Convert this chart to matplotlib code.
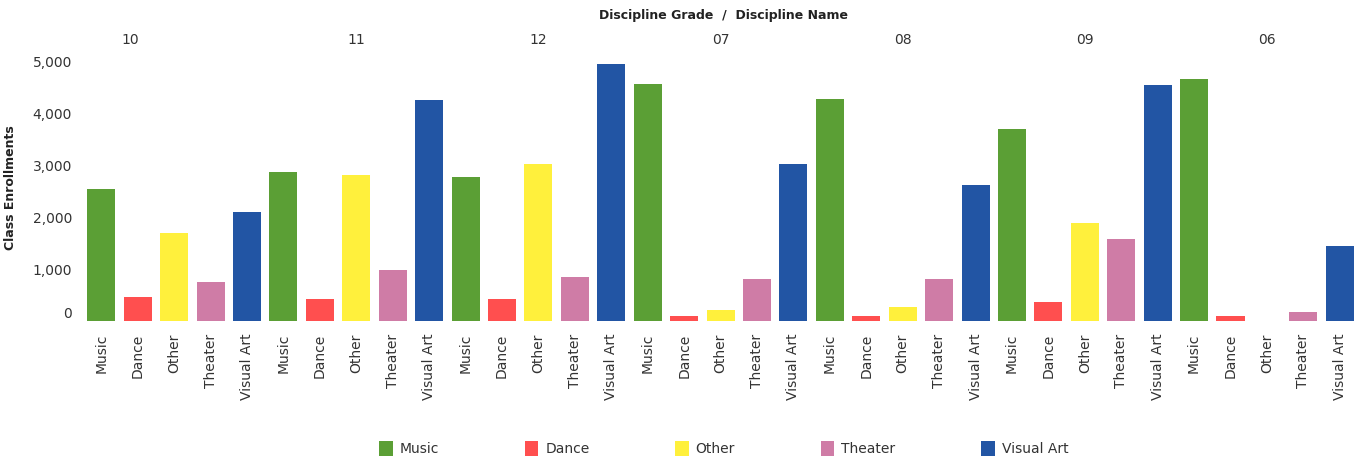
import matplotlib
matplotlib.use("Agg")
import matplotlib.pyplot as plt
from matplotlib.patches import Patch
import numpy as np

grades = ["10", "11", "12", "07", "08", "09", "06"]
disciplines = ["Music", "Dance", "Other", "Theater", "Visual Art"]
colors = {"Music": "#5B9F35", "Dance": "#FF4F4F", "Other": "#FFF03C",
          "Theater": "#CF7CA6", "Visual Art": "#2255A4"}

# enrollments per grade, in discipline order
music = [2540, 2870, 2775, 4570, 4280, 3690, 4650]
dance = [460, 415, 415, 100, 100, 370, 100]
other = [1690, 2810, 3030, 210, 270, 1880, 0]
theater = [745, 980, 850, 800, 800, 1575, 180]
visual_art = [2100, 4260, 4940, 3020, 2615, 4540, 1450]

values = []
labels = []
for g in range(len(grades)):
    for d, series in zip(disciplines, [music, dance, other, theater, visual_art]):
        values.append(series[g])
        labels.append(d)

fig = plt.figure(figsize=(13.58, 4.59), dpi=100)
ax = fig.add_axes([0.0612, 0.3007, 0.9388, 0.583])

x = np.arange(len(values))
ax.bar(x, values, width=0.77, color=[colors[l] for l in labels])

ax.set_xlim(-0.5, len(values) - 0.5)
ax.set_ylim(0, 5150)
ax.set_yticks([0, 1000, 2000, 3000, 4000, 5000])
ax.set_yticklabels(["0", "1,000", "2,000", "3,000", "4,000", "5,000"])
ax.get_yticklabels()[0].set_va("bottom")
ax.set_xticks(x)
ax.set_xticklabels(labels, rotation=90)
ax.tick_params(axis="both", length=0, labelsize=10, colors="#333333")
ax.tick_params(axis="x", pad=9)
ax.tick_params(axis="y", pad=8)
for s in ax.spines.values():
    s.set_visible(False)

ax.set_ylabel("Class Enrollments", fontsize=9, fontweight="bold", color="#222222")
ax.yaxis.set_label_coords(-0.052, 0.5)

# grade headers above each group of 5 bars
header_pos = [0.8] + [5 * g + 2 for g in range(1, len(grades))]
for gx, g in zip(header_pos, grades):
    ax.text(gx, 1.05, g, transform=ax.get_xaxis_transform(), ha="center", va="center",
            fontsize=10, color="#333333")

fig.text(0.533, 0.967, "Discipline Grade  /  Discipline Name", ha="center", va="center",
         fontsize=9, fontweight="bold", color="#222222")

handles = [Patch(facecolor=colors[d], label=d) for d in disciplines]
fig.legend(handles=handles, loc="center", bbox_to_anchor=(0.533, 0.022), ncol=5,
           frameon=False, fontsize=10, handlelength=0.95, handleheight=1.2,
           handletextpad=0.5, columnspacing=6.2, labelcolor="#333333")

fig.savefig("out.png", dpi=100)
